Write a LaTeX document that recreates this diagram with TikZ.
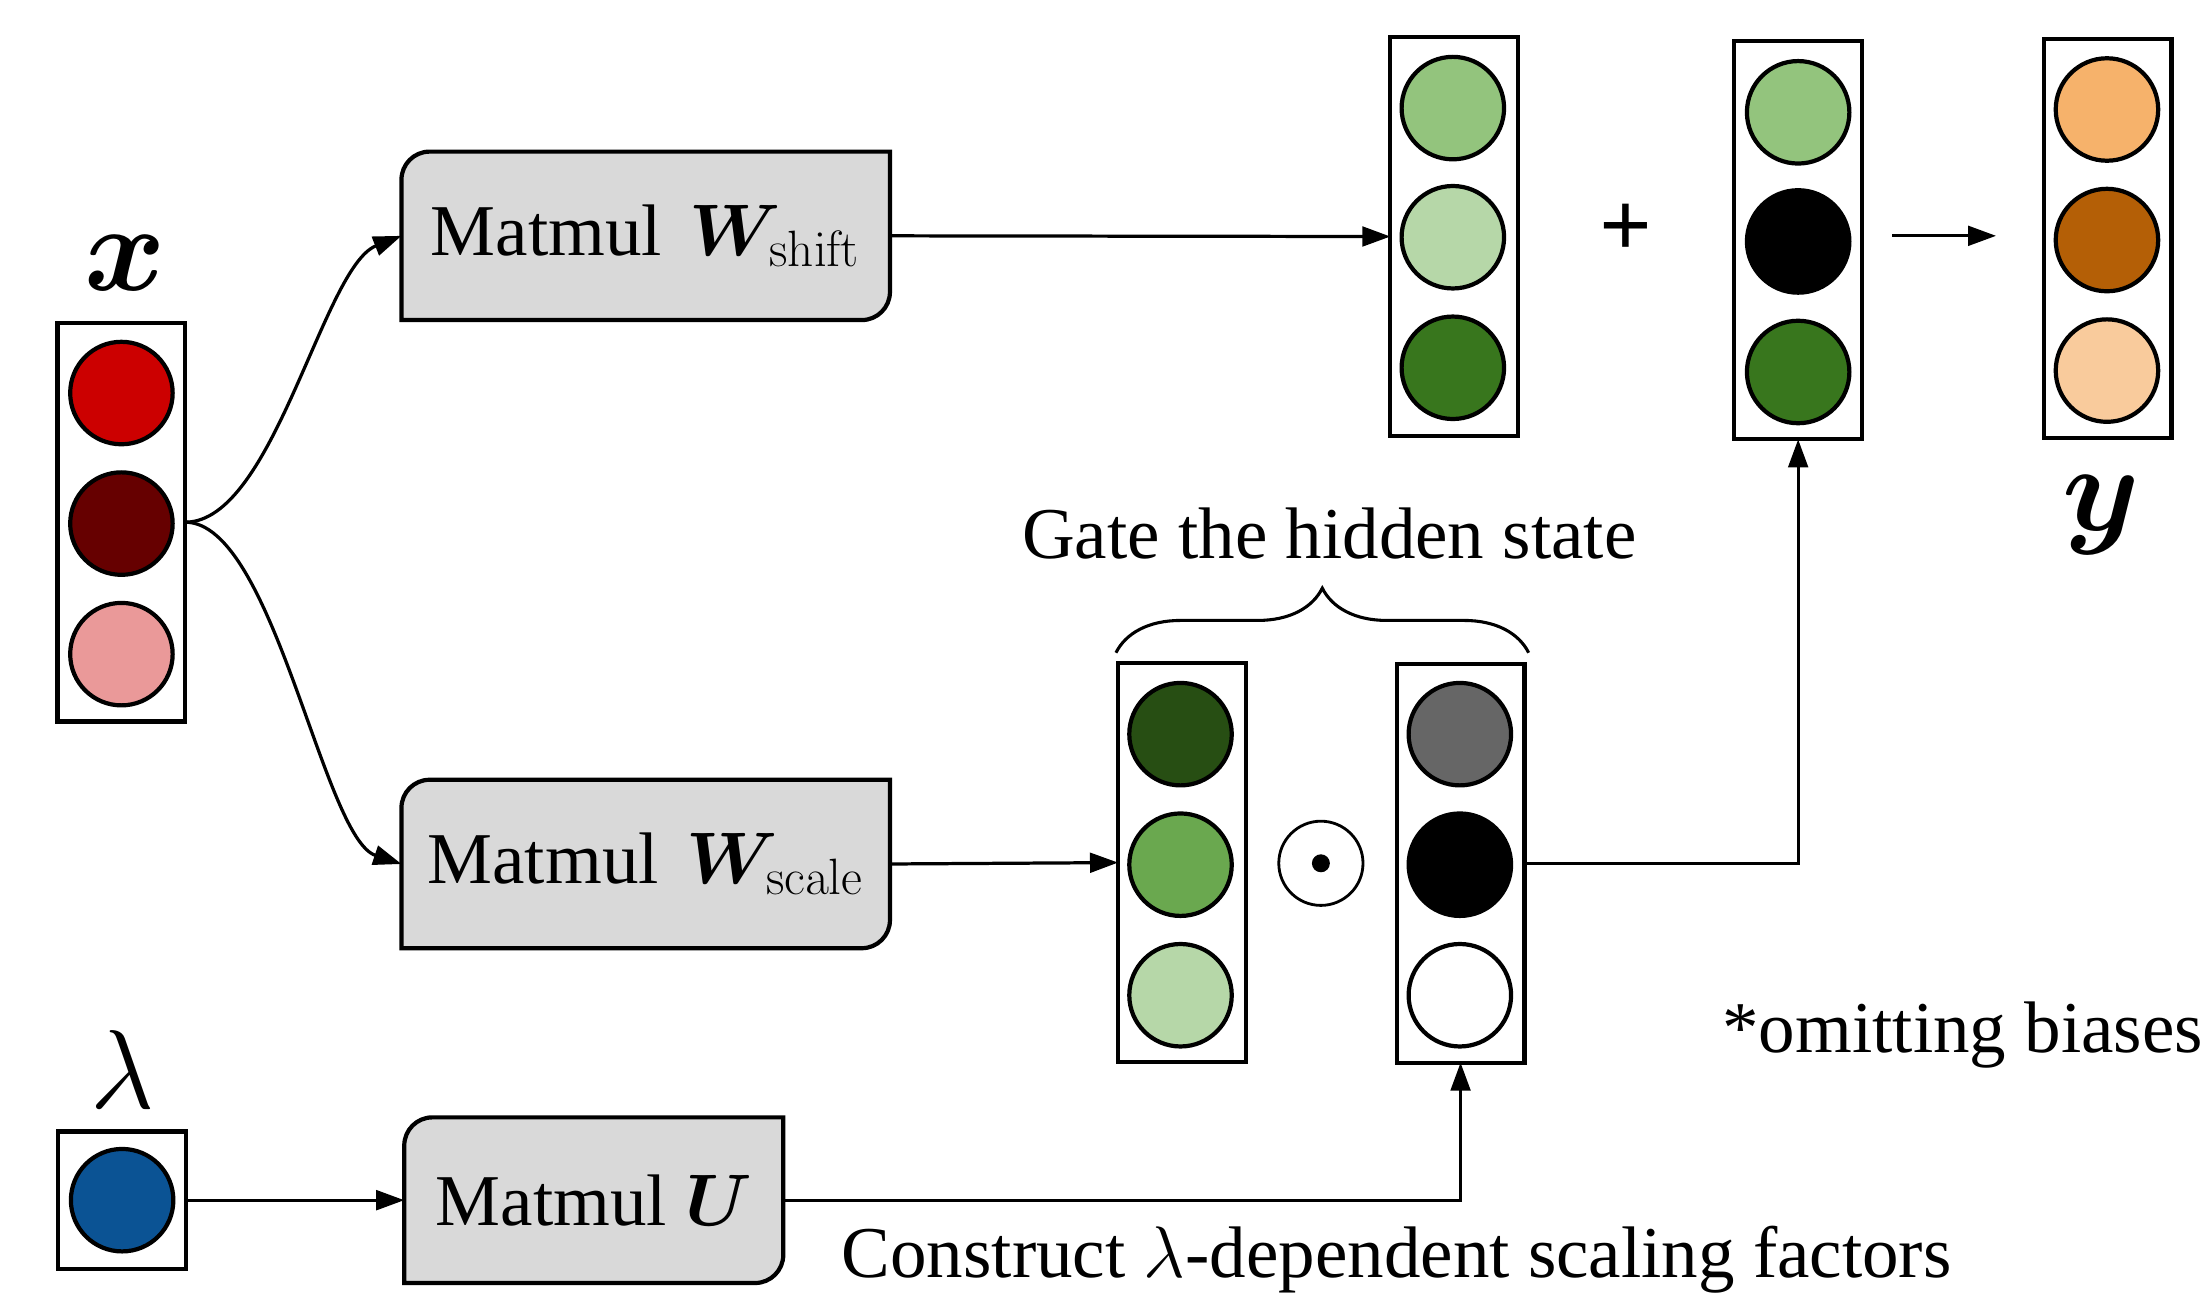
\RequirePackage{fix-cm}
\documentclass[tikz,border=0pt]{standalone}
\usepackage{amsmath}
\usepackage{bm}
\usepackage[no-math]{fontspec}
\setmainfont{Liberation Serif}
\usetikzlibrary{arrows.meta,decorations.pathreplacing,backgrounds}
\definecolor{cRed}{HTML}{CC0000}
\definecolor{cDarkRed}{HTML}{660000}
\definecolor{cLightRed}{HTML}{EA9999}
\definecolor{cGreenA}{HTML}{93C47D}
\definecolor{cGreenB}{HTML}{B6D7A8}
\definecolor{cGreenC}{HTML}{38761D}
\definecolor{cGreenD}{HTML}{274E13}
\definecolor{cGreenE}{HTML}{6AA84F}
\definecolor{cGrayA}{HTML}{666666}
\definecolor{cOrA}{HTML}{F6B26B}
\definecolor{cOrB}{HTML}{B45F06}
\definecolor{cOrC}{HTML}{F9CB9C}
\definecolor{cBlue}{HTML}{0B5394}
\definecolor{cBoxGray}{HTML}{D9D9D9}
\tikzset{
  every node/.style={font=\fontsize{26pt}{31pt}\selectfont, inner sep=0pt, outer sep=0pt},
  vecbox/.style={draw, line width=1.5pt, rectangle, minimum width=45.5pt, minimum height=142pt},
  unit/.style={draw, line width=1.5pt, circle, minimum size=36.5pt},
  mmtext/.style={rectangle, minimum width=174pt, minimum height=60pt},
  mmshape/.style={draw, line width=1.5pt, fill=cBoxGray},
  conn/.style={line width=1.15pt, -{Triangle[length=10pt,width=7pt]}},
  biglabel/.style={font=\fontsize{44pt}{52pt}\selectfont},
}
\begin{document}
\begin{tikzpicture}[x=0.5pt,y=-0.5pt]
\useasboundingbox (0,0) rectangle (1568,922);

% input x
\node[vecbox, minimum height=142pt] (xv) at (86.5,372) {};
\node[unit, fill=cRed] (x1) at (86.5,280) {};
\node[unit, fill=cDarkRed] (x2) at (86.5,373) {};
\node[unit, fill=cLightRed] (x3) at (86.5,466) {};
\node[biglabel, anchor=base] (xl) at (89,207) {$\bm{x}$};

% lambda
\node[vecbox, minimum height=49pt] (lv) at (87,855) {};
\node[unit, fill=cBlue] (l1) at (87,855) {};
\node[font=\fontsize{40pt}{48pt}\selectfont, anchor=base] (ll) at (87,790) {$\lambda$};

% matmul boxes
\node[mmtext] (ws) at (460,168) {Matmul\hspace{0.38em}$\bm{W}_{\mathrm{shift}}$};
\node[mmtext] (wc) at (460,615.5) {Matmul\hspace{0.38em}$\bm{W}_{\mathrm{scale}}$};
\node[mmtext, minimum width=135pt, minimum height=59pt] (ub) at (423,855) {Matmul $\bm{U}$};
\begin{scope}[on background layer]
\foreach \n in {ws,wc,ub}{
  \draw[mmshape] (\n.north east) -- ([yshift=10pt]\n.south east)
    .. controls ([yshift=4.5pt]\n.south east) and ([xshift=-4.5pt]\n.south east) .. ([xshift=-10pt]\n.south east)
    -- (\n.south west) -- ([yshift=-10pt]\n.north west)
    .. controls ([yshift=-4.5pt]\n.north west) and ([xshift=4.5pt]\n.north west) .. ([xshift=10pt]\n.north west)
    -- cycle;
}
\end{scope}

% shift output vector
\node[vecbox] (v1) at (1036,168.5) {};
\node[unit, fill=cGreenA] (v1a) at (1035,77) {};
\node[unit, fill=cGreenB] (v1b) at (1035,169) {};
\node[unit, fill=cGreenC] (v1c) at (1035,262) {};

\node[font=\fontsize{33pt}{38pt}\selectfont\bfseries] (plus) at (1158,164) {+};

% gated vector
\node[vecbox] (v2) at (1281,171) {};
\node[unit, fill=cGreenA] (v2a) at (1281,80) {};
\node[unit, fill=black] (v2b) at (1281,172) {};
\node[unit, fill=cGreenC] (v2c) at (1281,265) {};

% output y
\node[vecbox] (yv) at (1501.5,170) {};
\node[unit, fill=cOrA] (y1) at (1501,78) {};
\node[unit, fill=cOrB] (y2) at (1501,171) {};
\node[unit, fill=cOrC] (y3) at (1501,264) {};
\node[biglabel, anchor=base] (yl) at (1497,378) {$\bm{y}$};

% scale vector
\node[vecbox] (hs) at (842,614.5) {};
\node[unit, fill=cGreenD] (h1) at (841,523) {};
\node[unit, fill=cGreenE] (h2) at (841,616) {};
\node[unit, fill=cGreenB] (h3) at (841,709) {};

% odot
\node[draw, circle, line width=1pt, minimum size=30pt] (od) at (941,615) {};
\node[fill=black, circle, minimum size=6.4pt] (odd) at (941,615) {};

% gate vector
\node[vecbox] (gv) at (1040.5,615) {};
\node[unit, fill=cGrayA] (g1) at (1040,523) {};
\node[unit, fill=black] (g2) at (1040,616) {};
\node[unit, fill=white] (g3) at (1040,709) {};

% brace and texts
\coordinate (bl) at (795,465);
\coordinate (br) at (1089,465);
\draw[line width=1.1pt, decorate, decoration={brace, amplitude=23pt}] (bl) -- (br);
\node[anchor=base] (gt) at (947,398) {Gate the hidden state};
\node[anchor=base] (ct) at (995,910) {Construct $\lambda$-dependent scaling factors};
\node[anchor=base west] (ob) at (1227,750) {*omitting biases};

% connectors
\draw[conn] (xv.east) .. controls (195,372) and (230,190) .. (ws.west);
\draw[conn] (xv.east) .. controls (195,372) and (230,597) .. (wc.west);
\draw[conn] (ws.east) -- (v1.west);
\draw[conn] (wc.east) -- (hs.west);
\draw[conn] (gv.east) -| (v2.south);
\draw[conn] (ub.east) -| (gv.south);
\draw[conn] (lv.east) -- (ub.west);
\coordinate (ya) at (1348,168);
\coordinate (yb) at (1422,168);
\draw[conn] (ya) -- (yb);
\end{tikzpicture}
\end{document}
